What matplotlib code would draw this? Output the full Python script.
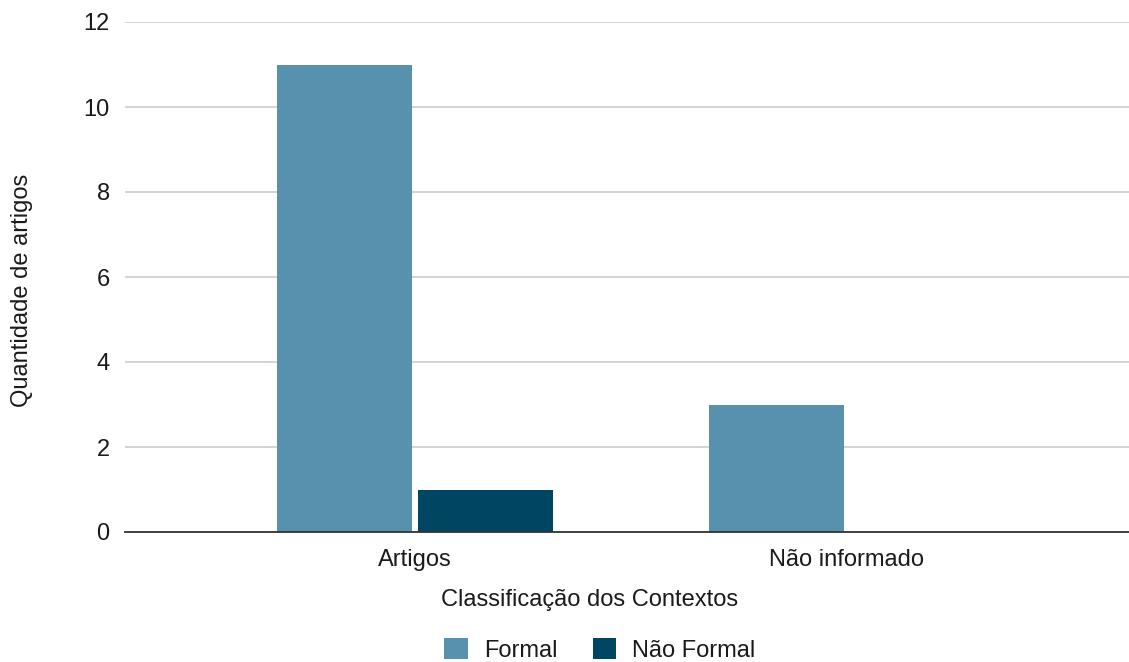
import matplotlib
matplotlib.use("Agg")
import matplotlib.pyplot as plt
import numpy as np

categories = ["Artigos", "Não informado"]
formal = [11, 3]
nao_formal = [1, 0]
series_names = ["Formal", "Não Formal"]
colors = ["#5891ad", "#004561"]

plt.rcParams["font.family"] = ["Liberation Sans", "DejaVu Sans"]
FS = 17
TXT = "#1a1a1a"

fig = plt.figure(figsize=(11.29, 6.62), dpi=100)
ax = fig.add_axes([125 / 1129, 130 / 662, 1 - 125 / 1129, 510 / 662])

x = np.arange(len(categories))
w = 0.3125
gap = 0.007
ax.bar(x - w / 2 - gap, formal, width=w, color=colors[0], label=series_names[0])
ax.bar(x + w / 2 + gap, nao_formal, width=w, color=colors[1], label=series_names[1])

ax.set_xlim(-0.671, 1.653)
ax.set_ylim(0, 12)
ax.set_yticks(range(0, 13, 2))
ax.set_xticks(x)
ax.set_xticklabels(categories)
ax.tick_params(axis="both", length=0, labelsize=FS, colors=TXT)
ax.tick_params(axis="y", pad=11)
ax.tick_params(axis="x", pad=12)
ax.grid(axis="y", color="#cccccc", linewidth=1.2)
ax.set_axisbelow(True)
for s in ["top", "right", "left"]:
    ax.spines[s].set_visible(False)
ax.spines["bottom"].set_color("#333333")
ax.spines["bottom"].set_linewidth(1.3)
ax.spines["bottom"].set_zorder(3)

fig.text(590 / 1129, 1 - 600 / 662, "Classificação dos Contextos", ha="center", va="center",
         fontsize=FS, color=TXT)
fig.text(22 / 1129, 1 - 290 / 662, "Quantidade de artigos", ha="center", va="center",
         rotation=90, fontsize=FS, color=TXT)

handles, labels = ax.get_legend_handles_labels()
fig.legend(handles, labels, loc="center", bbox_to_anchor=(600 / 1129, 1 - 650 / 662),
           ncol=2, frameon=False, fontsize=FS, handlelength=1.0, handleheight=1.0,
           columnspacing=1.5, handletextpad=0.68, labelcolor=TXT)

fig.savefig("out.png", dpi=100)
